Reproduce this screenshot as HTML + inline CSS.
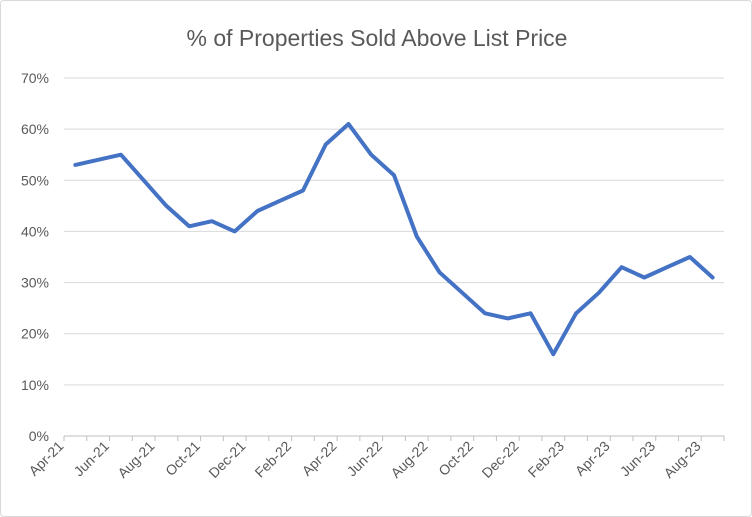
<!DOCTYPE html>
<html><head><meta charset="utf-8"><style>
body{margin:0;background:#fff}
svg{display:block;font-family:"Liberation Sans",Arial,sans-serif}
</style></head><body>
<svg width="752" height="517" viewBox="0 0 752 517">
<rect x="0.5" y="0.5" width="751" height="516" fill="#fff" stroke="#d9d9d9" rx="3"/>
<text x="377" y="46" text-anchor="middle" font-size="23" fill="#595959">% of Properties Sold Above List Price</text>
<g id="grid"></g><g id="xaxis"></g><g id="series"></g>
</svg>
<script>
const categories=["Apr-21","May-21","Jun-21","Jul-21","Aug-21","Sep-21","Oct-21","Nov-21","Dec-21","Jan-22","Feb-22","Mar-22","Apr-22","May-22","Jun-22","Jul-22","Aug-22","Sep-22","Oct-22","Nov-22","Dec-22","Jan-23","Feb-23","Mar-23","Apr-23","May-23","Jun-23","Jul-23","Aug-23"];
const values=[53,54,55,50,45,41,42,40,44,46,48,57,61,55,51,39,32,28,24,23,24,16,24,28,33,31,33,35,31];
const yTicks=[0,10,20,30,40,50,60,70];
const ns="http://www.w3.org/2000/svg";
const X0=64,X1=724,Y0=436,Y1=78,YMAX=70;
const bw=(X1-X0)/categories.length;
const xc=i=>X0+bw*(i+0.5);
const y=v=>Y0-(v/YMAX)*(Y0-Y1);
function mk(t,a,p){const e=document.createElementNS(ns,t);for(const k in a)e.setAttribute(k,a[k]);p.appendChild(e);return e;}
const grid=document.getElementById('grid');
yTicks.forEach(v=>{
 const l=mk('line',{x1:X0,x2:X1,y1:y(v),y2:y(v),stroke:v===0?'#bfbfbf':'#d9d9d9','stroke-width':1},grid);
 
 
 const t=mk('text',{x:49,y:y(v)+5,'text-anchor':'end','font-size':14,fill:'#595959'},grid);
 t.textContent=v+'%';
 
 
});
const xa=document.getElementById('xaxis');
categories.forEach((c,i)=>{
 const tk=mk('line',{x1:X0+bw*i,x2:X0+bw*i,y1:Y0,y2:Y0+5,stroke:'#bfbfbf'},xa);
 
 
 if(i%2===0){
  const px=xc(i)-11,py=447;
  const t=mk('text',{x:px,y:py,'text-anchor':'end','font-size':14,fill:'#595959',transform:`rotate(-45 ${px} ${py})`},xa);
  t.textContent=c;
  
  
 }
});
const tk=mk('line',{x1:X1,x2:X1,y1:Y0,y2:Y0+5,stroke:'#bfbfbf'},xa);


const pts=values.map((v,i)=>xc(i).toFixed(1)+','+y(v).toFixed(1)).join(' ');
const pl=mk('polyline',{points:pts,fill:'none',stroke:'#4472c4','stroke-width':4,'stroke-linejoin':'round','stroke-linecap':'round'},document.getElementById('series'));


</script>
</body></html>
